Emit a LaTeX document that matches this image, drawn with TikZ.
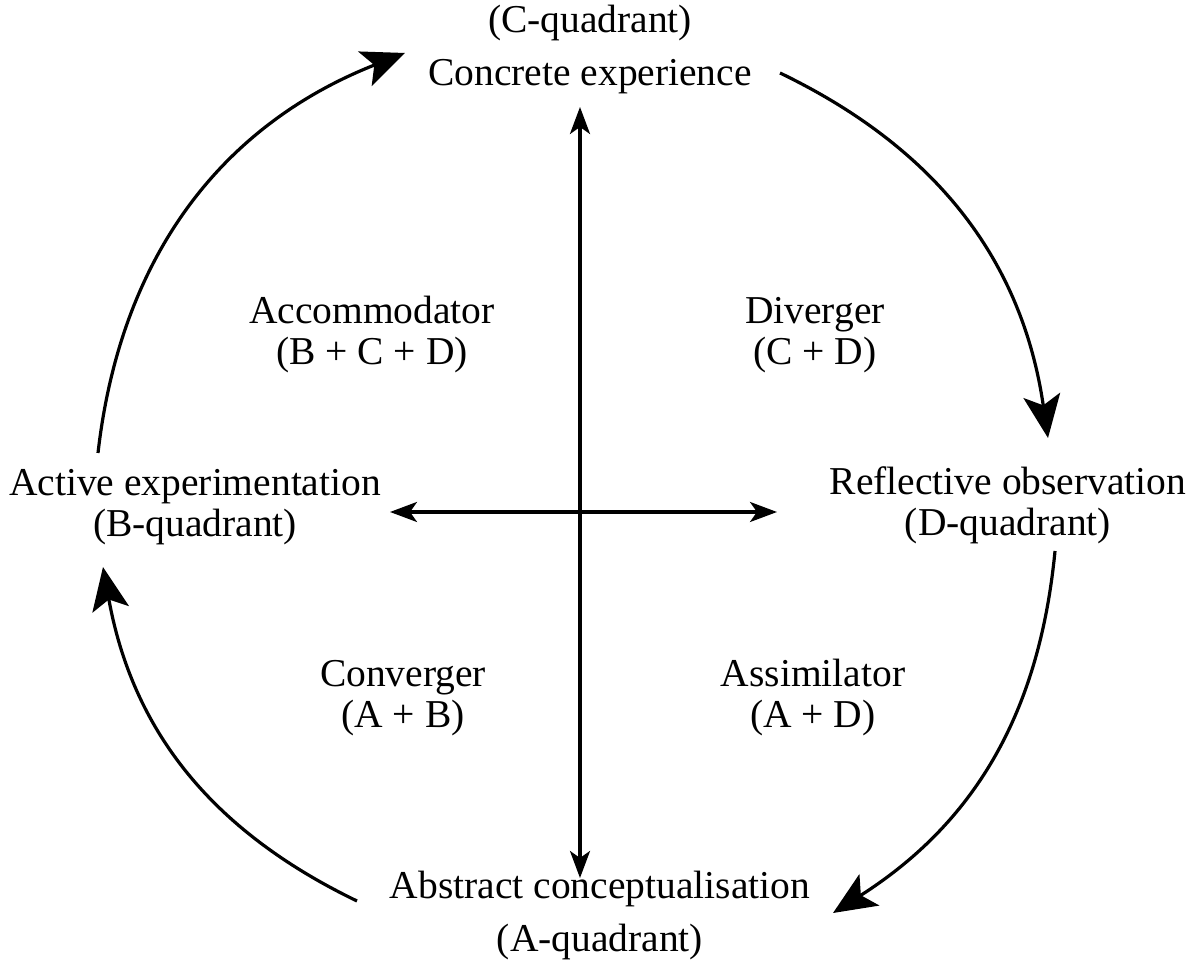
\documentclass[tikz,border=0pt]{standalone}
\usepackage{fontspec}
\setmainfont{Liberation Serif}
\usetikzlibrary{arrows.meta}
\begin{document}
\begin{tikzpicture}[x=1pt,y=1pt,
  lbl/.style={inner sep=0pt, align=center, font=\fontsize{39.5}{41}\selectfont},
  widelbl/.style={lbl, font=\fontsize{39.5}{53}\selectfont},
  cyclearrow/.style={line width=3.2pt, -{Stealth[length=43pt,width=37pt,inset=10pt]}},
  axisarrow/.style={line width=3.2pt, {Stealth[length=27pt,width=20pt,inset=7pt]}-{Stealth[length=27pt,width=20pt,inset=7pt]}}]
\fill[white] (0,0) rectangle (1201,973);
\useasboundingbox (0,0) rectangle (1201,973);

% stage labels
\node[widelbl] (ce) at (590,923) {(C-quadrant)\\Concrete experience};
\node[lbl] (ro) at (1008,467.5) {Reflective observation\\(D-quadrant)};
\node[widelbl] (ac) at (600,57) {Abstract conceptualisation\\(A-quadrant)};
\node[lbl] (ae) at (195,465.5) {Active experimentation\\(B-quadrant)};

% quadrant labels
\node[lbl] (acc) at (372,638) {Accommodator\\(B + C + D)};
\node[lbl] (div) at (815,638) {Diverger\\(C + D)};
\node[lbl] (con) at (403,275) {Converger\\(A + B)};
\node[lbl] (ass) at (813,275) {Assimilator\\(A + D)};

% axes
\coordinate (vtop) at (580,866);
\coordinate (vbot) at (580,95);
\coordinate (hl) at (390,461);
\coordinate (hr) at (777,461);
\draw[axisarrow] (vbot) -- (vtop);
\draw[axisarrow] (hl) -- (hr);

% cycle arcs
\coordinate (a1s) at (780,900);
\coordinate (a1e) at (1048,535);
\coordinate (a2s) at (1055,422);
\coordinate (a2e) at (833,60);
\coordinate (a3s) at (357,72);
\coordinate (a3e) at (103,406);
\coordinate (a4s) at (98,520);
\coordinate (a4e) at (405,920);
\draw[cyclearrow] (a1s) to[bend left=28] (a1e);
\draw[cyclearrow] (a2s) to[bend left=26] (a2e);
\draw[cyclearrow] (a3s) to[bend left=27] (a3e);
\draw[cyclearrow] (a4s) to[bend left=31] (a4e);
\end{tikzpicture}
\end{document}
